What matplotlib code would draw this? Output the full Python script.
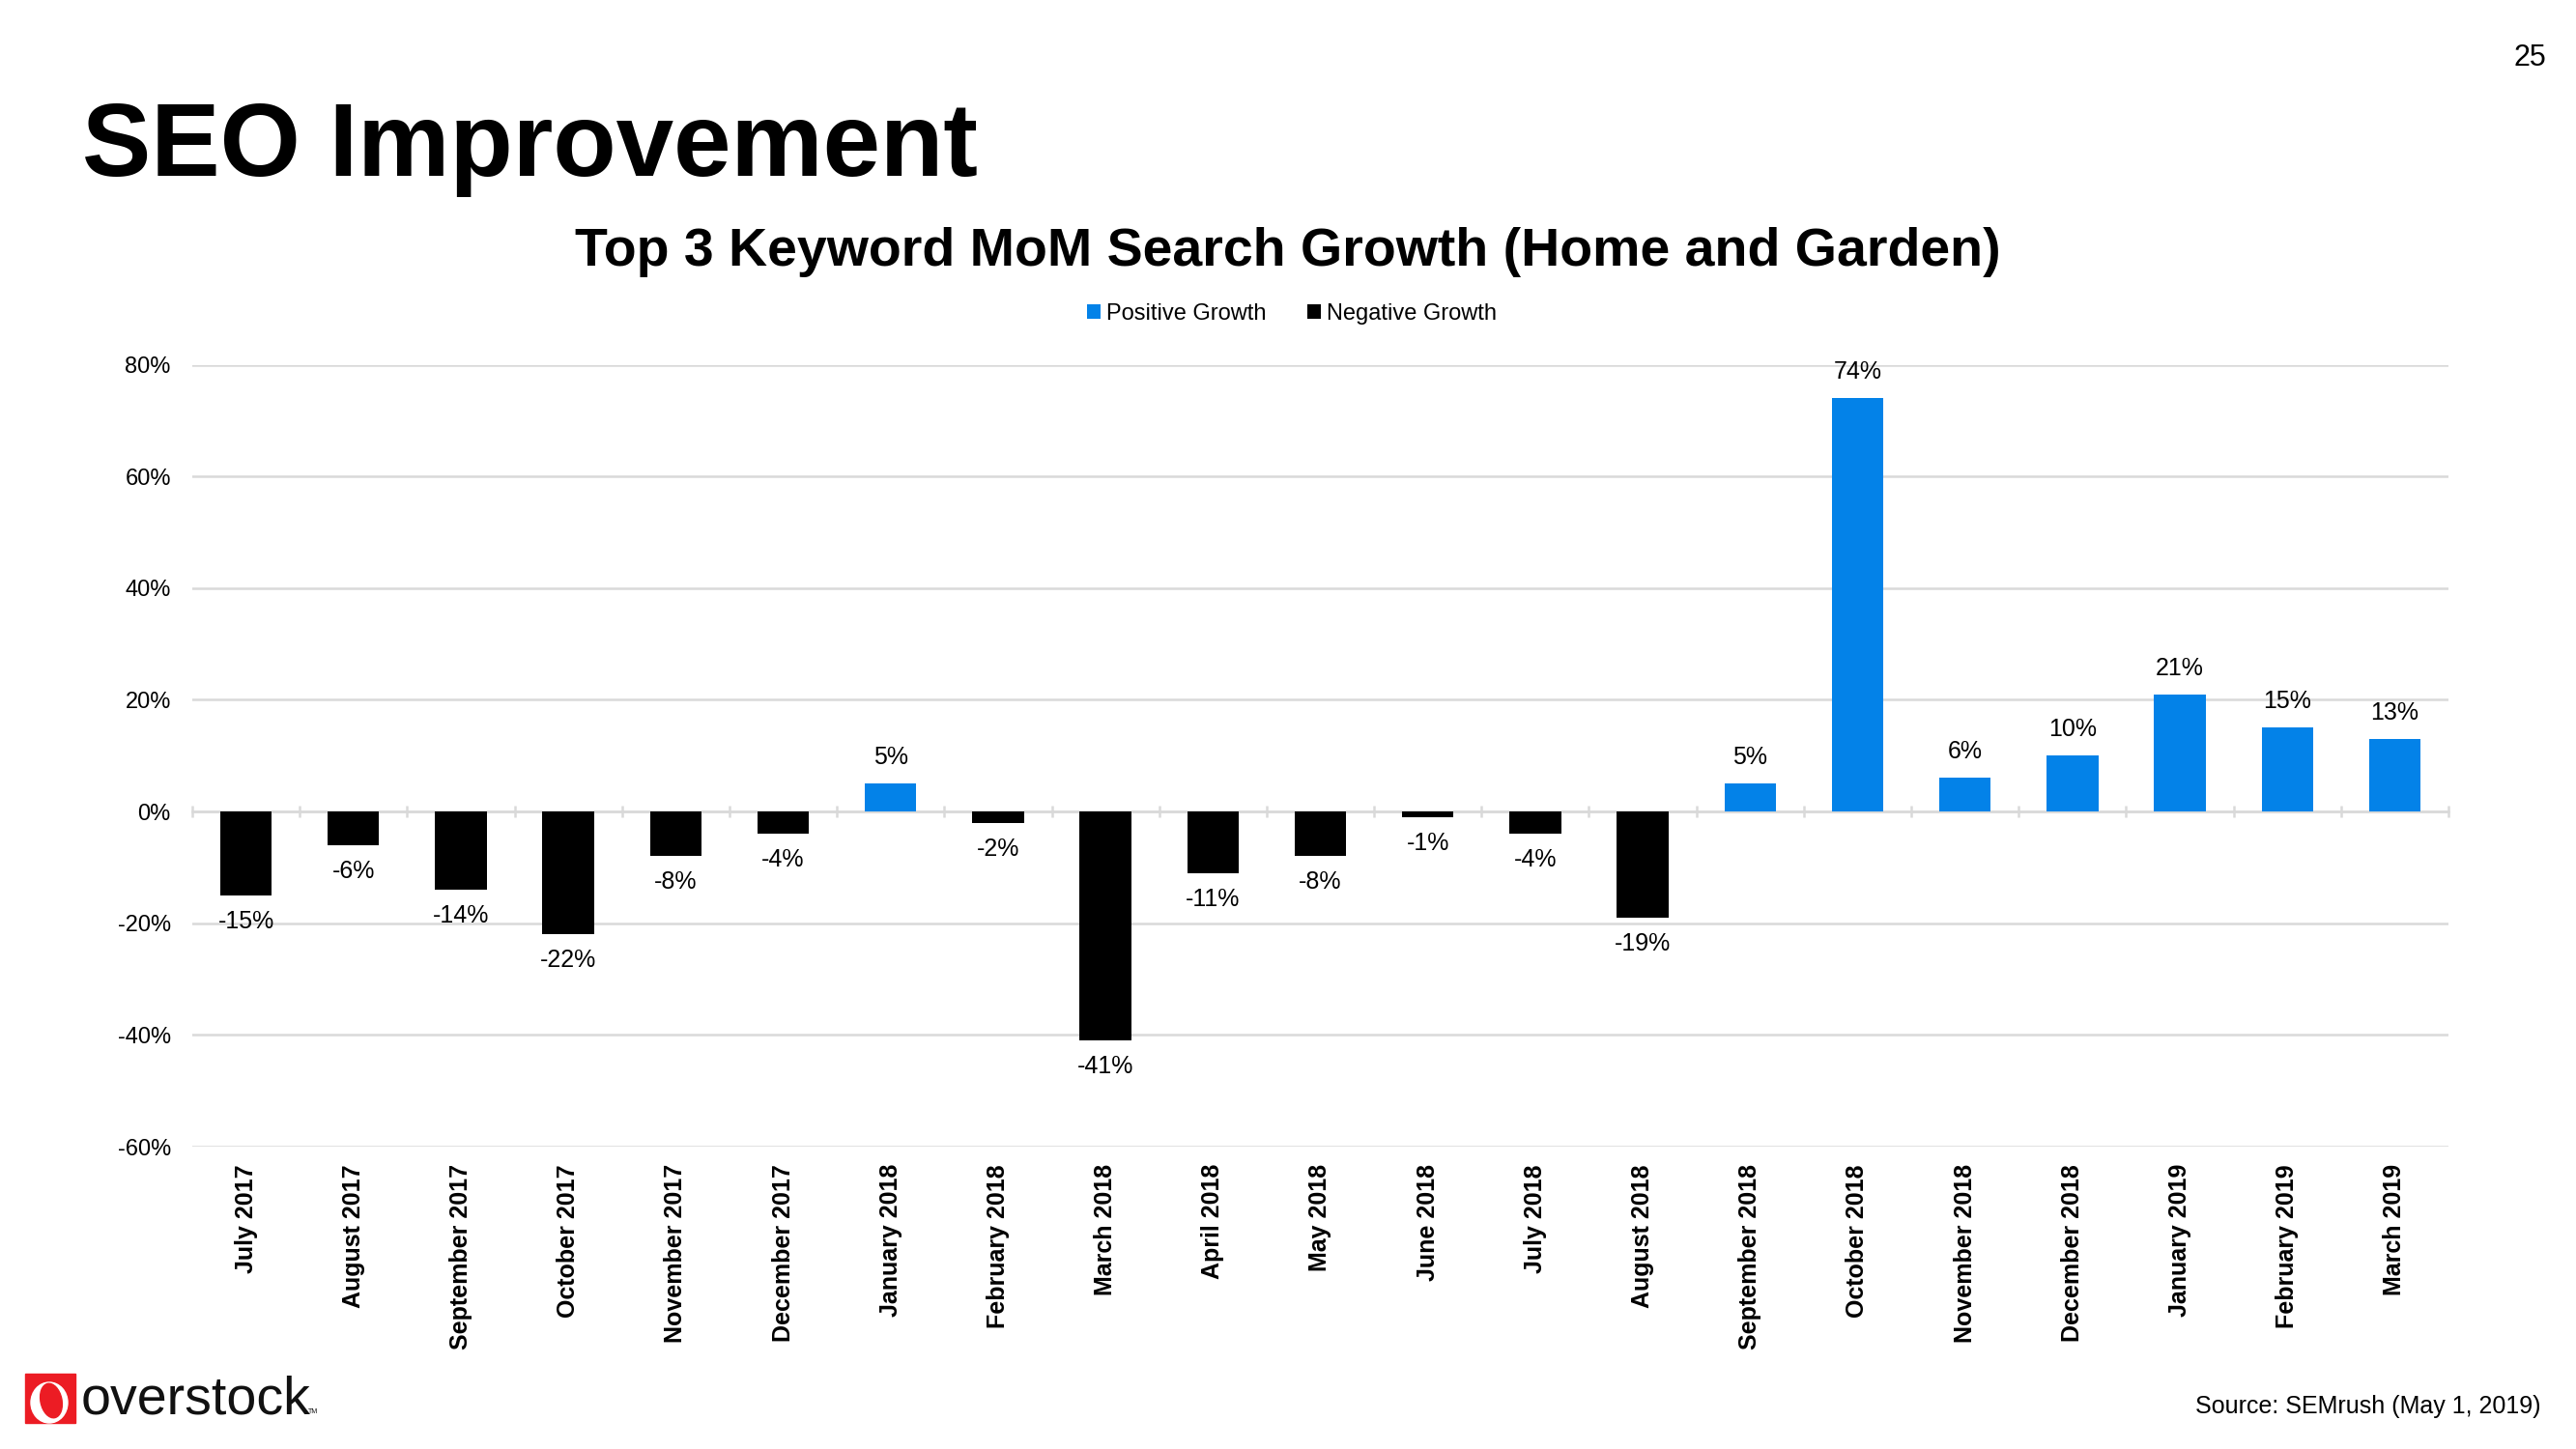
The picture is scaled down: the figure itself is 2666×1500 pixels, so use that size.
import matplotlib
matplotlib.use("Agg")
import matplotlib.pyplot as plt
from matplotlib.patches import Rectangle, Ellipse
import numpy as np

plt.rcParams['font.family'] = ['Liberation Sans', 'DejaVu Sans']

months = ["July 2017", "August 2017", "September 2017", "October 2017", "November 2017",
          "December 2017", "January 2018", "February 2018", "March 2018", "April 2018",
          "May 2018", "June 2018", "July 2018", "August 2018", "September 2018",
          "October 2018", "November 2018", "December 2018", "January 2019",
          "February 2019", "March 2019"]
growth = [-15, -6, -14, -22, -8, -4, 5, -2, -41, -11, -8, -1, -4, -19, 5, 74, 6, 10, 21, 15, 13]
series_names = ["Positive Growth", "Negative Growth"]
y_ticks = [-60, -40, -20, 0, 20, 40, 60, 80]

BLUE = "#0382E8"
BLACK = "#000000"
GRID = "#D9D9D9"

W, H = 2666, 1500
fig = plt.figure(figsize=(W / 100, H / 100), dpi=100)

# overlay for page decorations (pixel coords)
deco = fig.add_axes([0, 0, 1, 1], zorder=0)
deco.set_xlim(0, W)
deco.set_ylim(H, 0)
deco.axis('off')

ax_l, ax_r, ax_t, ax_b = 199, 2534, 377.5, 1187
ax = fig.add_axes([ax_l / W, 1 - ax_b / H, (ax_r - ax_l) / W, (ax_b - ax_t) / H], zorder=2)
ax.patch.set_alpha(0)

x = np.arange(len(months))
vals = np.array(growth, dtype=float)
pos_idx = x[vals > 0]
neg_idx = x[vals < 0]

bw = 0.48
b_pos = ax.bar(pos_idx, vals[vals > 0], width=bw, color=BLUE, label=series_names[0], zorder=3)
b_neg = ax.bar(neg_idx, vals[vals < 0], width=bw, color=BLACK, label=series_names[1], zorder=3)

for xi, v in zip(x, vals):
    off = 19.5 if v > 0 else -19.5
    ax.annotate(f"{int(v)}%", (xi, v), xytext=(0, off), textcoords='offset points',
                ha='center', va='center', fontsize=18, color='#000000', zorder=4)

ax.set_xlim(-0.5, len(months) - 0.5)
ax.set_ylim(-60, 80)
ax.set_yticks(y_ticks)
ax.set_yticklabels([f"{t}%" for t in y_ticks], fontsize=17)
ax.tick_params(axis='y', length=0, pad=16)
ax.set_xticks(x)
ax.set_xticklabels(months, rotation=90, fontsize=18, fontweight='bold', va='top')
ax.tick_params(axis='x', length=0, pad=13)
for s in ax.spines.values():
    s.set_visible(False)
ax.grid(axis='y', color=GRID, linewidth=1.8, zorder=1)
ax.set_axisbelow(True)

# zero line with category boundary ticks
zero_frac = (0 - (-60)) / (80 - (-60))
sec = ax.secondary_xaxis(zero_frac)
sec.set_xticks(np.arange(len(months) + 1) - 0.5)
sec.set_xticklabels([])
sec.tick_params(axis='x', direction='inout', length=9, width=1.8, color=GRID)
for name, s in sec.spines.items():
    s.set_visible(name == 'bottom')
sec.spines['bottom'].set_color(GRID)
sec.spines['bottom'].set_linewidth(1.8)

# legend
leg = fig.legend(handles=[b_pos, b_neg], labels=series_names, loc='center',
                 bbox_to_anchor=(1337 / W, 1 - 325 / H), ncol=2, frameon=False,
                 fontsize=17, handlelength=0.6, handleheight=0.6, handletextpad=0.25,
                 columnspacing=1.8)

# titles
deco.text(85, 182, "SEO Improvement", fontsize=77, fontweight='bold', ha='left',
          va='baseline', color='#000000')
deco.text(W / 2, 275, "Top 3 Keyword MoM Search Growth (Home and Garden)", fontsize=40,
          fontweight='bold', ha='center', va='baseline', color='#000000')
deco.text(2635, 68, "25", fontsize=22, ha='right', va='baseline', color='#000000')
deco.text(2630, 1463, "Source: SEMrush (May 1, 2019)", fontsize=18, ha='right',
          va='baseline', color='#000000')

# overstock logo
RED = "#EC1C24"
deco.add_patch(Rectangle((26, 1422), 52, 51, color=RED, zorder=1))
deco.add_patch(Ellipse((51, 1452), 38, 42, color='white', zorder=2))
deco.add_patch(Ellipse((53, 1450), 22, 36, angle=-12, color=RED, zorder=3))
deco.text(84, 1463, "overstock", fontsize=40, ha='left', va='baseline', color='#111111')
deco.text(319, 1463, "TM", fontsize=5, ha='left', va='baseline', color='#111111')

fig.savefig("out.png", dpi=100)
